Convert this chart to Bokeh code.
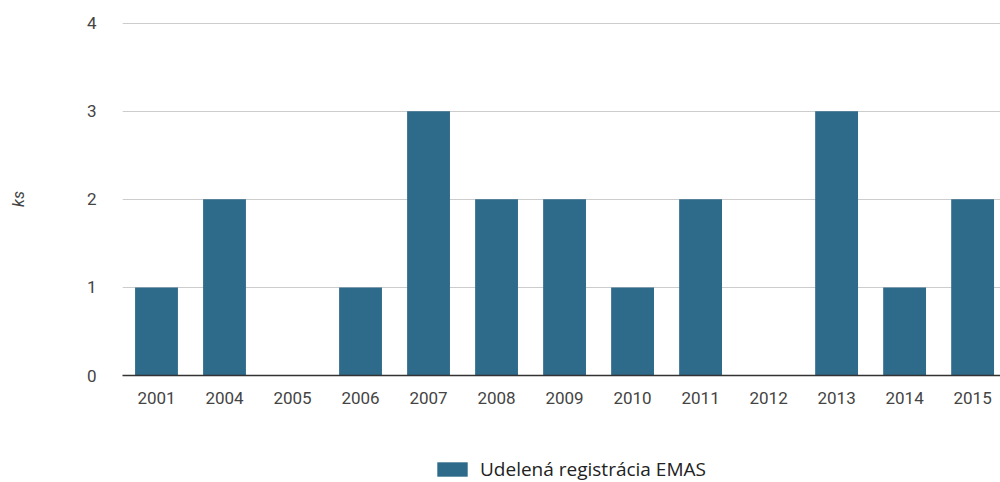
from bokeh.plotting import figure
from bokeh.layouts import column
from bokeh.models import ColumnDataSource, Range1d, FixedTicker, Legend, LegendItem
from bokeh.embed import file_html
from bokeh.resources import INLINE

years = ["2001", "2004", "2005", "2006", "2007", "2008", "2009", "2010", "2011", "2012", "2013", "2014", "2015"]
counts = [1, 2, 0, 1, 3, 2, 2, 1, 2, 0, 3, 1, 2]
series_name = "Udelená registrácia EMAS"
y_ticks = [0, 1, 2, 3, 4]
bar_color = "#2e6a8a"

idx = list(range(len(years)))
src = ColumnDataSource(dict(x=idx, top=counts, year=years))

p = figure(width=1000, height=415, output_backend="svg", toolbar_location=None,
           x_range=Range1d(-0.5, len(years) - 0.59), y_range=Range1d(0, 4.006),
           min_border_left=122, min_border_top=22, min_border_right=0, min_border_bottom=40)
p.outline_line_color = None
p.background_fill_color = "white"
p.border_fill_color = "white"

r = p.vbar(x="x", top="top", width=0.63, source=src, fill_color=bar_color, line_color=None)

p.xaxis.ticker = FixedTicker(ticks=idx)
p.xaxis.major_label_overrides = {i: y for i, y in enumerate(years)}
p.xaxis.major_tick_line_color = None
p.xaxis.minor_tick_line_color = None
p.xaxis.axis_line_color = "#333333"
p.xaxis.axis_line_width = 1.5
p.xaxis.major_label_standoff = 10
p.xaxis.major_label_text_font = "Roboto"
p.xaxis.major_label_text_font_size = "17px"
p.xaxis.major_label_text_color = "#444444"
p.xgrid.grid_line_color = None

p.yaxis.ticker = FixedTicker(ticks=y_ticks)
p.yaxis.major_tick_line_color = None
p.yaxis.minor_tick_line_color = None
p.yaxis.axis_line_color = None
p.yaxis.major_label_standoff = 20
p.yaxis.major_label_text_font = "Roboto"
p.yaxis.major_label_text_font_size = "17px"
p.yaxis.major_label_text_color = "#444444"
p.yaxis.axis_label = "ks"
p.yaxis.axis_label_text_font = "Roboto"
p.yaxis.axis_label_text_font_style = "italic"
p.yaxis.axis_label_text_font_size = "16px"
p.yaxis.axis_label_text_color = "#444444"
p.yaxis.axis_label_standoff = 56
p.ygrid.grid_line_color = "#cccccc"
p.ygrid.grid_line_width = 1

# legend strip below the chart
p2 = figure(width=1000, height=67, output_backend="svg", toolbar_location=None,
            x_axis_type=None, y_axis_type=None,
            min_border_left=122, min_border_top=0, min_border_right=0, min_border_bottom=0)
p2.outline_line_color = None
p2.xgrid.grid_line_color = None
p2.ygrid.grid_line_color = None
swatch = p2.vbar(x=[0], top=[0], width=0, fill_color=bar_color, line_color=None)

legend = Legend(items=[LegendItem(label=series_name, renderers=[swatch])], location=(311, 0),
                orientation="horizontal", glyph_width=38, glyph_height=18,
                label_text_font="Open Sans", label_text_font_size="19px", label_text_color="#222222",
                border_line_color=None, background_fill_alpha=0, margin=0, padding=0, label_standoff=9)
p2.add_layout(legend, "center")

layout = column(p, p2, spacing=0)
open("out.html", "w").write(file_html(layout, INLINE))
